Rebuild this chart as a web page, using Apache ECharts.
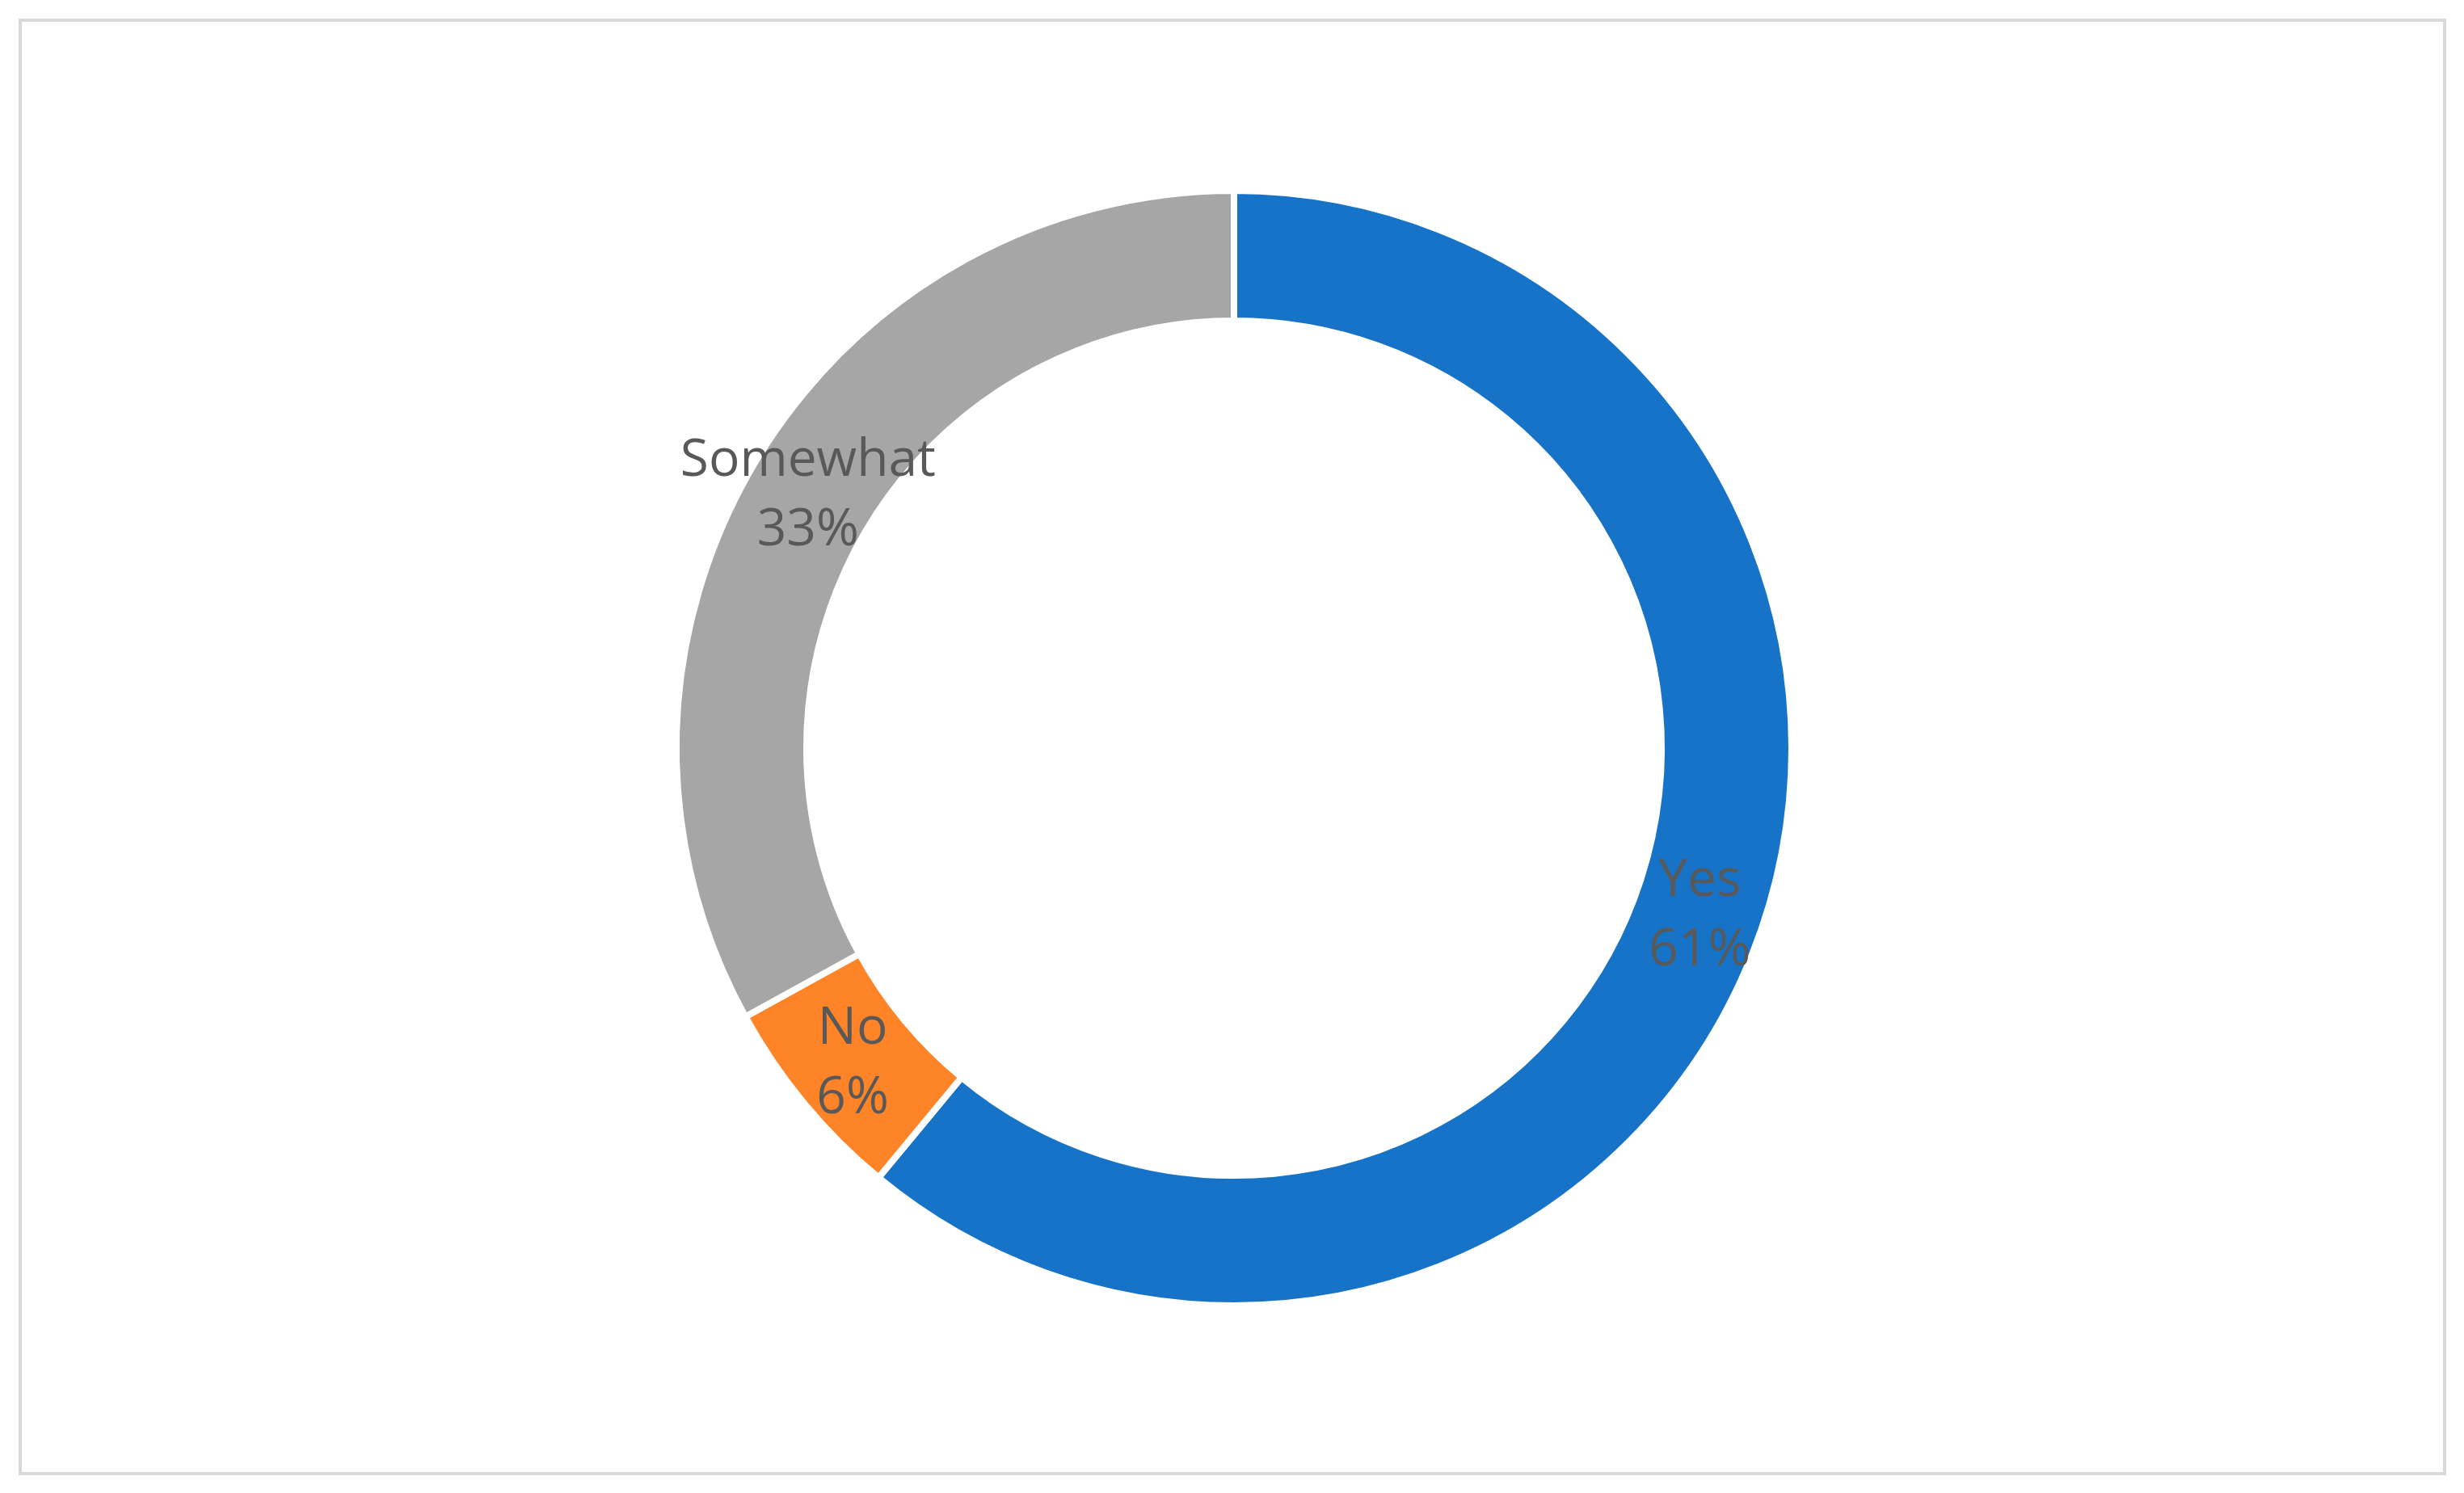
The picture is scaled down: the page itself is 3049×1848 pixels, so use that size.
<!DOCTYPE html>
<html>
<head>
<meta charset="utf-8">
<script src="https://cdn.jsdelivr.net/npm/echarts@6/dist/echarts.min.js"></script>
<style>
  html, body { margin: 0; padding: 0; background: #fff; }
  #frame { position: absolute; left: 23px; top: 23px; width: 2996px; height: 1795px;
           border: 4px solid #d9d9d9; background: #fff; }
  #chart { width: 100%; height: 100%; }
</style>
</head>
<body>
<div id="frame"><div id="chart"></div></div>
<script>
var categories = ['Yes', 'No', 'Somewhat'];
var values = [61, 6, 33];
var colors = ['#1773c7', '#fe8427', '#a6a6a6'];

var chart = echarts.init(document.getElementById('chart'));
var option = {
    animation: false,
    series: [
        {
            type: 'pie',
            center: [1500, 899],
            radius: [529, 690],
            startAngle: 90,
            clockwise: true,
            itemStyle: { borderColor: '#fff', borderWidth: 8 },
            label: {
                position: 'inside',
                formatter: '{b}\n{d}%',
                color: '#595959',
                fontSize: 64,
                lineHeight: 86,
                fontFamily: 'Open Sans'
            },
            labelLine: { show: false },
            data: (function () {
                var datas = [];
                for (var i = 0; i < categories.length; i++) {
                    datas.push({ name: categories[i], value: values[i], itemStyle: { color: colors[i] } });
                }
                return datas;
            })()
        }
    ]
};
chart.setOption(option);
</script>
</body>
</html>
